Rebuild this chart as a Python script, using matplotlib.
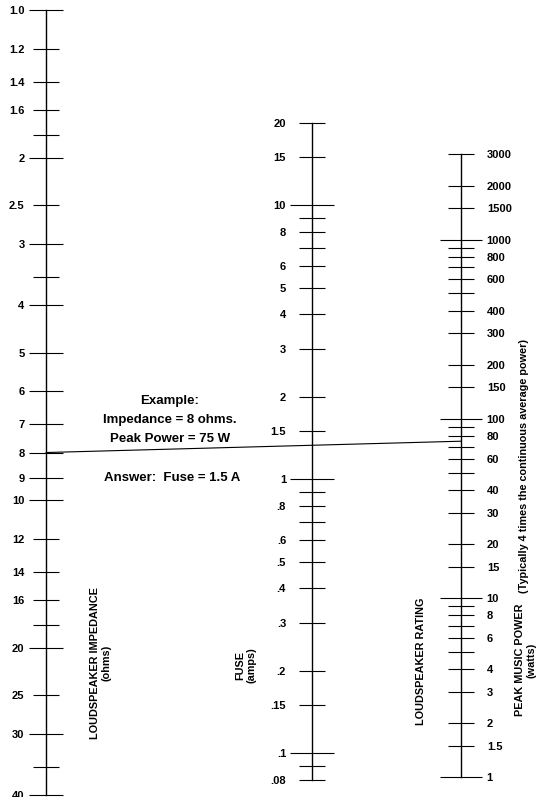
"""
Loudspeaker fuse nomogram: impedance (ohms) / fuse (amps) / peak music power (watts).
Three parallel log scales, with one worked example drawn across them.
"""
import matplotlib
matplotlib.use("Agg")
import matplotlib.pyplot as plt
from matplotlib.patches import ConnectionPatch

plt.rcParams["font.family"] = ["Liberation Sans", "DejaVu Sans"]
plt.rcParams["font.weight"] = "bold"

# Loudspeaker impedance scale (ohms)
IMP_LONG = [1, 2, 3, 4, 5, 6, 7, 8, 9, 10, 20, 30, 40]
IMP_SHORT = [1.2, 1.4, 1.6, 1.8, 2.5, 3.5, 12, 14, 16, 18, 25, 35]
IMP_UNLABELED = [1.8, 3.5, 18, 35]

# Fuse scale (amps)
FUSE_LONG = [10, 1, 0.1]
FUSE_SHORT = [20, 15, 9, 8, 7, 6, 5, 4, 3, 2, 1.5,
              0.9, 0.8, 0.7, 0.6, 0.5, 0.4, 0.3, 0.2, 0.15, 0.09, 0.08]
FUSE_UNLABELED = [9, 7, 0.9, 0.7, 0.09]

# Peak music power scale (watts)
POW_LONG = [1000, 100, 10, 1]
POW_SHORT = [3000, 2000, 1500, 900, 800, 700, 600, 500, 400, 300, 200, 150,
             90, 80, 70, 60, 50, 40, 30, 20, 15, 9, 8, 7, 6, 5, 4, 3, 2, 1.5]
POW_UNLABELED = [900, 700, 500, 90, 70, 50, 9, 7, 5]

# worked example
EX_IMPEDANCE = 8
EX_POWER = 75
EX_FUSE = 1.5

W, H = 536, 797
PX = 0.72  # points per pixel at dpi 100


def fmt_imp(v):
    return "1.0" if v == 1 else f"{v:g}"


def fmt_fuse(v):
    s = f"{v:g}"
    return s[1:] if s.startswith("0.") else s


def fmt_plain(v):
    return f"{v:g}"


def make_scale(fig, x_px, ylim, long_vals, short_vals, unlabeled, side,
               long_len, short_len, long_pad, short_pad, fmt):
    w = 0.02
    left = x_px / W if side == "left" else x_px / W - w
    ax = fig.add_axes([left, 0, w, 1])
    ax.set_yscale("log")
    ax.set_ylim(*ylim)
    ax.set_xticks([])
    ax.patch.set_visible(False)
    for sp in ax.spines.values():
        sp.set_visible(False)
    allv = long_vals + short_vals
    spine = ax.spines[side]
    spine.set_visible(True)
    spine.set_bounds(min(allv), max(allv))
    spine.set_linewidth(1.0)
    ax.yaxis.set_ticks_position(side)
    ax.set_yticks(long_vals, labels=[fmt(v) for v in long_vals])
    ax.set_yticks(short_vals,
                  labels=["" if v in unlabeled else fmt(v) for v in short_vals],
                  minor=True)
    ax.tick_params(axis="y", which="major", direction="inout",
                   length=long_len * PX, width=0.8, pad=long_pad * PX,
                   labelsize=8)
    ax.tick_params(axis="y", which="minor", direction="inout",
                   length=short_len * PX, width=0.8, pad=short_pad * PX,
                   labelsize=8)
    return ax


def main():
    fig = plt.figure(figsize=(W / 100, H / 100), dpi=100)

    # limits fitted to the hand-drawn scales of the original sheet
    ax_imp = make_scale(fig, 46, (40.37, 0.9541), IMP_LONG, IMP_SHORT,
                        IMP_UNLABELED, "left", 34, 27, 4.5, 8, fmt_imp)
    ax_fuse = make_scale(fig, 311.7, (0.06928, 56.14), FUSE_LONG, FUSE_SHORT,
                         FUSE_UNLABELED, "left", 44, 26, 3.7, 12.7, fmt_fuse)
    ax_pow = make_scale(fig, 461, (0.7776, 21664), POW_LONG, POW_SHORT,
                        POW_UNLABELED, "right", 43, 26, 3.5, 13, fmt_plain)

    # example line: impedance 8 ohms -> peak power 75 W
    con = ConnectionPatch(xyA=(0, EX_IMPEDANCE), coordsA=ax_imp.get_yaxis_transform(),
                          xyB=(1, EX_POWER), coordsB=ax_pow.get_yaxis_transform(),
                          color="black", linewidth=0.8)
    fig.add_artist(con)

    def fy(py):
        return 1 - py / H

    fig.text(170 / W, fy(401), "Example:", ha="center", va="center", fontsize=9.5)
    fig.text(170 / W, fy(420), "Impedance = 8 ohms.", ha="center", va="center", fontsize=9.5)
    fig.text(170 / W, fy(439), f"Peak Power = {EX_POWER} W", ha="center", va="center",
             fontsize=9.5)
    fig.text(172 / W, fy(478), f"Answer:  Fuse = {EX_FUSE} A", ha="center", va="center",
             fontsize=9.5)

    # rotated scale titles
    kw = dict(rotation=90, ha="center", va="center", multialignment="center",
              fontsize=7.8, linespacing=1.15)
    fig.text(101 / W, fy(663), "LOUDSPEAKER IMPEDANCE\n(ohms)", **kw)
    fig.text(245.5 / W, fy(665), "FUSE\n(amps)", **kw)
    fig.text(421 / W, fy(661), "LOUDSPEAKER RATING", **kw)
    fig.text(526 / W, fy(660), "PEAK MUSIC POWER\n(watts)", **kw)
    fig.text(524 / W, fy(466), "(Typically 4 times the continuous average power)", **kw)

    fig.savefig("out.png", dpi=100)


if __name__ == "__main__":
    main()
